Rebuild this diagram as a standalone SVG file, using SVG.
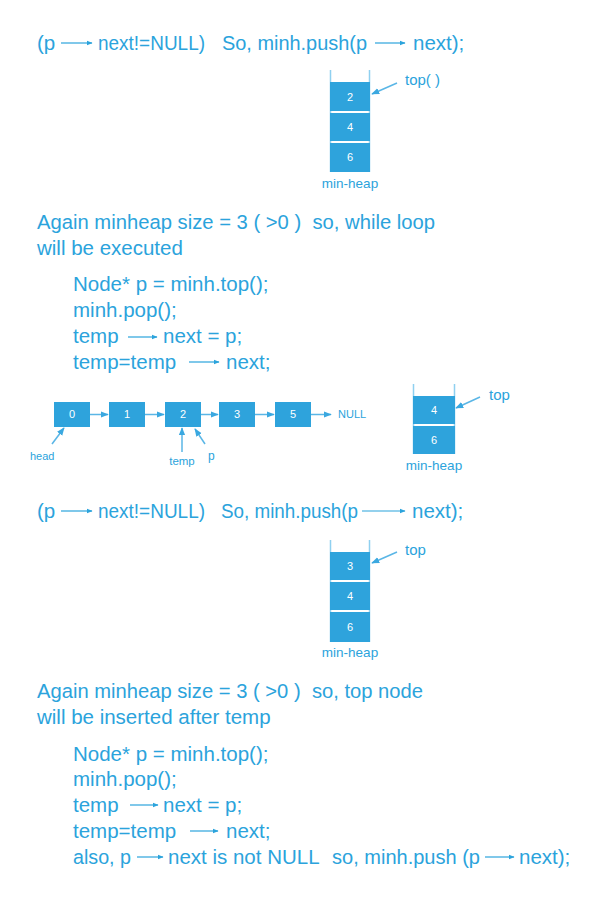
<svg xmlns="http://www.w3.org/2000/svg" width="595" height="900" viewBox="0 0 595 900">
<defs>
<style>
.t{font-family:"Liberation Sans",Arial,sans-serif;font-size:20.5px;fill:#2ba3dc;white-space:pre}
.s{font-family:"Liberation Sans",Arial,sans-serif;fill:#2ba3dc}
.b{fill:#2ea3dc}
.bt{font-family:"Liberation Sans",Arial,sans-serif;font-size:11px;fill:#ffffff;text-anchor:middle}
.wall{stroke:#8fd0f0;stroke-width:1.5;fill:none}
.ta{stroke:#2ba3dc;stroke-width:1.2;fill:none;marker-end:url(#ah)}
.ca{stroke:#5ab6e6;stroke-width:1.5;fill:none;marker-end:url(#ah2)}
</style>
<marker id="ah" viewBox="0 0 10 10" refX="9" refY="5" markerWidth="6" markerHeight="6" markerUnits="userSpaceOnUse" orient="auto"><path d="M0,1 L10,5 L0,9 z" fill="#2ba3dc"/></marker>
<marker id="ah2" viewBox="0 0 10 10" refX="9" refY="5" markerWidth="8" markerHeight="8" markerUnits="userSpaceOnUse" orient="auto"><path d="M0,1 L10,5 L0,9 z" fill="#3aa8e0"/></marker>
</defs>
<rect width="595" height="900" fill="#ffffff"/>

<!-- Section 1 text -->
<g id="line1">
<text class="t" x="37" y="50">(p</text>
<text class="t" x="98" y="50" textLength="107" lengthAdjust="spacingAndGlyphs">next!=NULL)</text>
<text class="t" x="222" y="50" textLength="145" lengthAdjust="spacingAndGlyphs">So, minh.push(p</text>
<text class="t" x="413" y="50">next);</text>
</g>

<!-- Stack 1 -->
<g id="stack1">
<path class="wall" d="M330.5,70 V172 M369.5,70 V172"/>
<rect class="b" x="330" y="82" width="40" height="29"/>
<rect class="b" x="330" y="113" width="40" height="28"/>
<rect class="b" x="330" y="143" width="40" height="29"/>
<text class="bt" x="350" y="101">2</text>
<text class="bt" x="350" y="131">4</text>
<text class="bt" x="350" y="161">6</text>
<text class="s" x="350" y="188" font-size="13.5" text-anchor="middle">min-heap</text>
<text class="s" x="405" y="85" font-size="15">top( )</text>
</g>

<!-- Section 2 text -->
<g id="para2">
<text class="t" x="37" y="229" xml:space="preserve" textLength="398" lengthAdjust="spacingAndGlyphs">Again minheap size = 3 ( &gt;0 )  so, while loop</text>
<text class="t" x="37" y="255">will be executed</text>
<text class="t" x="73" y="291">Node* p = minh.top();</text>
<text class="t" x="73" y="317">minh.pop();</text>
<text class="t" x="73" y="343">temp</text>
<text class="t" x="163" y="343">next = p;</text>
<text class="t" x="73" y="369">temp=temp</text>
<text class="t" x="226" y="369">next;</text>
</g>

<!-- Linked list nodes -->
<g id="n0"><rect class="b" x="54" y="402" width="36" height="25"/><text class="bt" x="72" y="418">0</text></g>
<g id="n1"><rect class="b" x="109" y="402" width="36" height="25"/><text class="bt" x="127" y="418">1</text></g>
<g id="n2"><rect class="b" x="165" y="402" width="36" height="25"/><text class="bt" x="183" y="418">2</text></g>
<g id="n3"><rect class="b" x="219" y="402" width="36" height="25"/><text class="bt" x="237" y="418">3</text></g>
<g id="n5"><rect class="b" x="275" y="402" width="36" height="25"/><text class="bt" x="293" y="418">5</text></g>
<g id="labels1">
<text class="s" x="338" y="418" font-size="11">NULL</text>
<text class="s" x="30" y="460" font-size="11">head</text>
<text class="s" x="182" y="465" font-size="11.5" text-anchor="middle">temp</text>
<text class="s" x="208" y="460" font-size="12">p</text>
</g>

<!-- Stack 2 -->
<g id="stack2">
<path class="wall" d="M413.5,384 V454 M454.5,384 V454"/>
<rect class="b" x="413" y="396" width="42" height="28"/>
<rect class="b" x="413" y="426" width="42" height="28"/>
<text class="bt" x="434" y="414">4</text>
<text class="bt" x="434" y="444">6</text>
<text class="s" x="434" y="470" font-size="13.5" text-anchor="middle">min-heap</text>
<text class="s" x="489" y="400" font-size="15">top</text>
</g>

<!-- Section 3 text -->
<g id="line3">
<text class="t" x="37" y="518">(p</text>
<text class="t" x="98" y="518" textLength="107" lengthAdjust="spacingAndGlyphs">next!=NULL)</text>
<text class="t" x="221" y="518" textLength="137" lengthAdjust="spacingAndGlyphs">So, minh.push(p</text>
<text class="t" x="412" y="518">next);</text>
</g>

<!-- Stack 3 -->
<g id="stack3">
<path class="wall" d="M330.5,540 V642 M369.5,540 V642"/>
<rect class="b" x="330" y="552" width="40" height="28"/>
<rect class="b" x="330" y="582" width="40" height="28"/>
<rect class="b" x="330" y="612" width="40" height="30"/>
<text class="bt" x="350" y="570">3</text>
<text class="bt" x="350" y="600">4</text>
<text class="bt" x="350" y="631">6</text>
<text class="s" x="350" y="657" font-size="13.5" text-anchor="middle">min-heap</text>
<text class="s" x="405" y="555" font-size="15">top</text>
</g>

<!-- Section 4 text -->
<g id="para4">
<text class="t" x="37" y="698" xml:space="preserve" textLength="386" lengthAdjust="spacingAndGlyphs">Again minheap size = 3 ( &gt;0 )  so, top node</text>
<text class="t" x="37" y="724">will be inserted after temp</text>
<text class="t" x="73" y="761">Node* p = minh.top();</text>
<text class="t" x="73" y="786">minh.pop();</text>
<text class="t" x="73" y="812">temp</text>
<text class="t" x="163" y="812">next = p;</text>
<text class="t" x="73" y="838">temp=temp</text>
<text class="t" x="226" y="838">next;</text>
<text class="t" x="73" y="864" textLength="58" lengthAdjust="spacingAndGlyphs">also, p</text>
<text class="t" x="168" y="864">next is not NULL</text>
<text class="t" x="332" y="864" textLength="148" lengthAdjust="spacingAndGlyphs">so, minh.push (p</text>
<text class="t" x="519" y="864">next);</text>
</g>

<!-- Connectors -->
<g id="connectors">
<path class="ta" d="M61,43 H92"/>
<path class="ta" d="M375,43 H405"/>
<path class="ta" d="M128,337 H157"/>
<path class="ta" d="M189,362 H219"/>
<path class="ta" d="M61,511 H92"/>
<path class="ta" d="M362,511 H405"/>
<path class="ta" d="M130,805 H158"/>
<path class="ta" d="M190,831 H218"/>
<path class="ta" d="M137,857 H163"/>
<path class="ta" d="M485,857 H514"/>

<path class="ca" d="M397,83 L372,94"/>
<path class="ca" d="M480,397 L456,408"/>
<path class="ca" d="M397,552 L372,563"/>

<path class="ca" d="M90,414.5 H108"/>
<path class="ca" d="M145,414.5 H164"/>
<path class="ca" d="M201,414.5 H218"/>
<path class="ca" d="M255,414.5 H274"/>
<path class="ca" d="M311,414.5 H331"/>

<path class="ca" d="M52,444 L64,428"/>
<path class="ca" d="M182,452 V428"/>
<path class="ca" d="M205,444 L195,429"/>
</g>
</svg>
